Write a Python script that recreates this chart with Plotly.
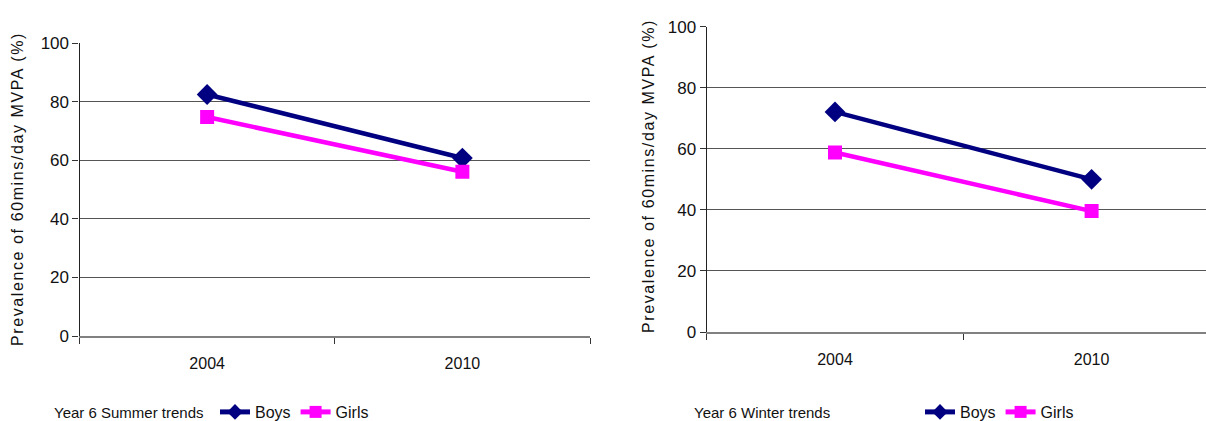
import plotly.graph_objects as go

years = ["2004", "2010"]
summer_boys = [82.5, 60.8]
summer_girls = [74.8, 56.1]
winter_boys = [72.1, 50.0]
winter_girls = [58.8, 39.6]
y_ticks = [0, 20, 40, 60, 80, 100]
y_title = "Prevalence of 60mins/day MVPA (%)"
panel_titles = ["Year 6 Summer trends", "Year 6 Winter trends"]

BOYS = "#000080"
GIRLS = "#FF00FF"
FONT = "Liberation Sans, Arial, sans-serif"
W, H = 1206, 421

fig = go.Figure()

def add_pair(boys, girls, xa, ya, legend):
    fig.add_trace(go.Scatter(x=years, y=boys, name="Boys", mode="lines+markers",
                             line=dict(color=BOYS, width=4.5),
                             marker=dict(symbol="diamond", size=16, color=BOYS),
                             xaxis=xa, yaxis=ya, legend=legend))
    fig.add_trace(go.Scatter(x=years, y=girls, name="Girls", mode="lines+markers",
                             line=dict(color=GIRLS, width=4.5),
                             marker=dict(symbol="square", size=14, color=GIRLS),
                             xaxis=xa, yaxis=ya, legend=legend))

add_pair(summer_boys, summer_girls, "x", "y", "legend")
add_pair(winter_boys, winter_girls, "x2", "y2", "legend2")

def xaxis(domain, rng, anchor):
    return dict(domain=domain, range=rng, type="category", anchor=anchor,
                showline=True, linecolor="#808080", linewidth=1.5,
                ticks="outside", tickson="boundaries", ticklen=6, tickcolor="#333",
                ticklabelstandoff=12,
                showgrid=False, zeroline=False, automargin=False,
                tickfont=dict(family=FONT, size=16, color="#111"))

def yaxis(domain, anchor):
    return dict(domain=domain, range=[0, 100], anchor=anchor,
                tickvals=y_ticks, ticks="outside", ticklen=6, tickcolor="#333",
                showline=True, linecolor="#222", linewidth=1.2,
                showgrid=True, gridcolor="#555", gridwidth=1.2,
                zeroline=False, automargin=False,
                tickfont=dict(family=FONT, size=17, color="#111"))

legend_common = dict(orientation="h", yanchor="middle", y=1 - 412 / H,
                     xanchor="left", font=dict(family=FONT, size=16, color="#111"),
                     itemwidth=30, itemsizing="constant", tracegroupgap=0,
                     bgcolor="rgba(0,0,0,0)")

fig.update_layout(
    width=W, height=H,
    margin=dict(l=0, r=0, t=0, b=0, autoexpand=False),
    paper_bgcolor="white", plot_bgcolor="white",
    xaxis=xaxis([79.5 / W, 590 / W], [-0.5, 1.5], "y"),
    yaxis=yaxis([1 - 336 / H, 1 - 43.3 / H], "x"),
    xaxis2=xaxis([706.7 / W, 1.0], [-0.5, (W - 706.7) / 256.6 - 0.5], "y2"),
    yaxis2=yaxis([1 - 332 / H, 1 - 26.7 / H], "x2"),
    legend=dict(x=215 / W, **legend_common),
    legend2=dict(x=920 / W, **legend_common),
    showlegend=True,
)

ann = [
    dict(x=52 / W, y=1 - 412 / H, text=panel_titles[0]),
    dict(x=692 / W, y=1 - 412 / H, text=panel_titles[1]),
]
for a in ann:
    fig.add_annotation(xref="paper", yref="paper", xanchor="left", yanchor="middle",
                       showarrow=False, font=dict(family=FONT, size=15, color="#111"), **a)

for xc, yc in [(18, 189), (648, 176)]:
    fig.add_annotation(xref="paper", yref="paper", x=xc / W, y=1 - yc / H,
                       xanchor="center", yanchor="middle", textangle=-90, showarrow=False,
                       text='<span style="letter-spacing:1.6px">' + y_title + '</span>',
                       font=dict(family=FONT, size=16, color="#111"))

fig.write_html(
    "out.html",
    config={"displayModeBar": False},
    post_script="document.body.style.margin='0';document.body.style.overflow='hidden';",
)
